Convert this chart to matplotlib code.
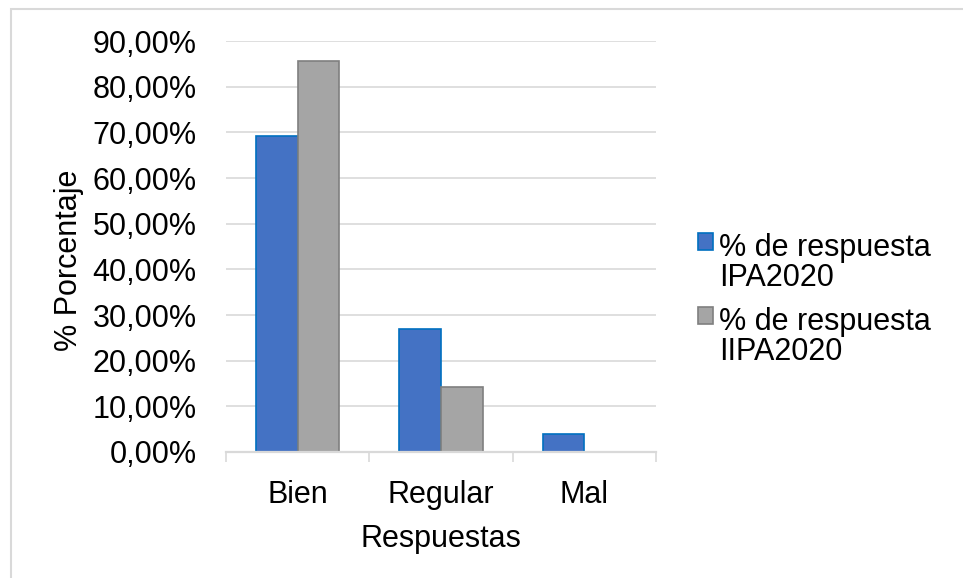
import matplotlib
matplotlib.use("Agg")
import matplotlib.pyplot as plt
import numpy as np
from matplotlib.patches import Rectangle
from matplotlib.legend_handler import HandlerPatch, update_from_first_child
from matplotlib.container import BarContainer

categories = ["Bien", "Regular", "Mal"]
serie1_name = "% de respuesta\nIPA2020"
serie2_name = "% de respuesta\nIIPA2020"
serie1 = [0.6923, 0.2692, 0.0385]
serie2 = [0.8571, 0.1429, 0.0]
yticks = [0.0, 0.1, 0.2, 0.3, 0.4, 0.5, 0.6, 0.7, 0.8, 0.9]
ytick_labels = ["0,00%", "10,00%", "20,00%", "30,00%", "40,00%", "50,00%",
                "60,00%", "70,00%", "80,00%", "90,00%"]

plt.rcParams['font.family'] = ['Liberation Sans', 'DejaVu Sans']
fs = 22

fig = plt.figure(figsize=(9.63, 5.78), dpi=100)
ax = fig.add_axes([0.2347, 0.218, 0.4464, 0.711])

x = np.arange(len(categories))
w = 0.29
ax.bar(x - w/2, serie1, w, color="#4472C4", edgecolor="#0070C0", linewidth=1.2,
       label=serie1_name, zorder=2)
ax.bar(x + w/2, serie2, w, color="#A5A5A5", edgecolor="#7F7F7F", linewidth=1.2,
       label=serie2_name, zorder=2)

ax.set_xlim(-0.5, len(categories) - 0.5)
ax.set_ylim(0, 0.9)
ax.set_yticks(yticks)
ax.set_yticklabels(ytick_labels, fontsize=fs)
ax.set_xticks(x)
ax.set_xticklabels(categories, fontsize=fs)
ax.tick_params(axis='x', length=0, pad=20)
ax.tick_params(axis='y', length=0, pad=21)
ax.set_xticks(np.arange(-0.5, len(categories), 1.0), minor=True)
ax.tick_params(axis='x', which='minor', length=7, color="#D9D9D9", width=1.2)

ax.yaxis.grid(True, color="#D9D9D9", linewidth=1.2, zorder=0)
ax.set_axisbelow(True)
for s in ["left", "right", "top"]:
    ax.spines[s].set_visible(False)
ax.spines["bottom"].set_color("#D9D9D9")
ax.spines["bottom"].set_linewidth(1.6)
ax.spines["bottom"].set_zorder(3)

ax.set_ylabel("% Porcentaje", fontsize=fs)
ax.yaxis.set_label_coords(-0.33, 0.467)
ax.set_xlabel("Respuestas", fontsize=fs)
ax.xaxis.set_label_coords(0.5, -0.175)


def top_patch(legend, orig_handle, xdescent, ydescent, width, height, fontsize):
    shift = 0.72 * fontsize
    return Rectangle((-xdescent, -ydescent + shift), width, height)


hm = {BarContainer: HandlerPatch(patch_func=top_patch,
                                 update_func=update_from_first_child)}
leg = ax.legend(loc="center left", bbox_to_anchor=(1.098, 0.37), frameon=False,
                fontsize=fs, handlelength=0.5, handleheight=0.5, handletextpad=0.2,
                labelspacing=0.45, borderpad=0, borderaxespad=0, handler_map=hm)
for t in leg.get_texts():
    t.set_linespacing(1.0)

fig.patches.append(Rectangle((0.0114, -0.5), 1.5, 1.4836, transform=fig.transFigure,
                             fill=False, edgecolor="#D9D9D9", linewidth=1.5))

fig.savefig("out.png", dpi=100)
